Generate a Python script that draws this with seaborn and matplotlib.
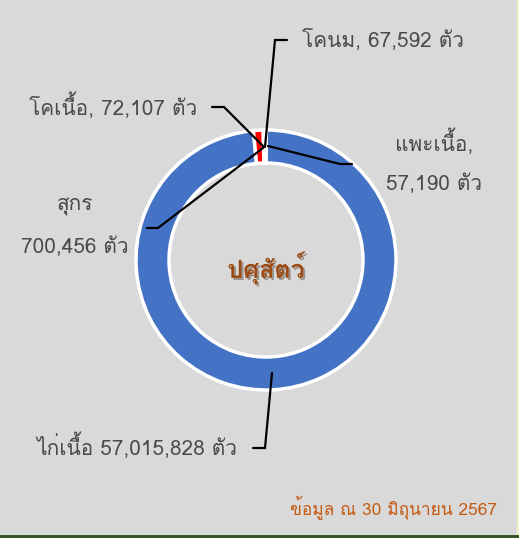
"""
Donut chart of livestock counts (data as of 30 June 2567).
"""

import matplotlib
matplotlib.use("Agg")
import matplotlib.patheffects as pe
import seaborn as sns
from matplotlib import pyplot as plt
from matplotlib.patches import Rectangle

# ---- data ---------------------------------------------------------------
animals = ["ไก่เนื้อ", "สุกร", "โคเนื้อ", "โคนม", "แพะเนื้อ"]
counts = [57015828, 700456, 72107, 67592, 57190]
slice_colors = ["#4472C4", "#FF0000", "#FFFFFF", "#FFFFFF", "#FFFFFF"]
center_label = "ปศุสัตว์"
footnote = "ข้อมูล ณ 30 มิถุนายน 2567"

W, H = 519, 538
BG = "#D9D9D9"
TEXT = "#4A4A4A"


def px(x, y):
    """Pixel position (top-left origin) -> data coords."""
    return x, H - y


sns.set_theme(style="white")
plt.rcParams["font.family"] = ["Loma", "Noto Sans Thai Looped", "DejaVu Sans"]

fig = plt.figure(figsize=(W / 100, H / 100), dpi=100, facecolor=BG)
ax = fig.add_axes([0, 0, 1, 1])

ax.pie(
    counts,
    colors=slice_colors,
    startangle=90,
    counterclock=False,
    center=px(266, 260),
    radius=130,
    wedgeprops=dict(width=33, edgecolor="white", linewidth=2.5),
    frame=True,
)
ax.set_xlim(0, W)
ax.set_ylim(0, H)
ax.set_aspect("equal")
ax.axis("off")

# leader lines
leaders = [
    [(253, 448), (265, 448), (272, 373)],   # chicken
    [(147, 228), (158, 228), (263, 148)],   # pig
    [(212, 107), (224, 107), (264, 147)],   # beef
    [(287, 40), (275, 40), (265, 147)],     # dairy
    [(352, 164), (340, 164), (268, 146)],   # goat
]
for pts in leaders:
    xs, ys = zip(*[px(x, y) for x, y in pts])
    ax.plot(xs, ys, color="black", lw=1.6, solid_joinstyle="miter")

fs = 15
style = dict(ha="center", va="center", fontsize=fs, color=TEXT)
ax.text(*px(137, 446), f"{animals[0]} {counts[0]:,} ตัว", **style)
ax.text(*px(75, 207), animals[1], **style)
ax.text(*px(75, 247), f"{counts[1]:,} ตัว", **style)
ax.text(*px(113, 106), f"{animals[2]}, {counts[2]:,} ตัว", **style)
ax.text(*px(383, 39), f"{animals[3]}, {counts[3]:,} ตัว", **style)
ax.text(*px(434, 142), f"{animals[4]},", **style)
ax.text(*px(434, 184), f"{counts[4]:,} ตัว", **style)

ax.text(*px(266, 268), center_label, ha="center", va="center", fontsize=18,
        fontweight="bold", color="#9C4A12",
        path_effects=[pe.withSimplePatchShadow(offset=(1.5, -1.5), alpha=0.35)])
ax.text(*px(394, 507), footnote, ha="center", va="center", fontsize=12.5,
        color="#C55A11")

# frame edges seen in the reference
fig.patches.append(Rectangle((0, 0), 1, 3 / H, transform=fig.transFigure,
                             facecolor="#375623", edgecolor="none"))
fig.patches.append(Rectangle((1 - 2 / W, 3 / H), 2 / W, 1, transform=fig.transFigure,
                             facecolor="#F2F2C8", edgecolor="none"))

fig.savefig("out.png", dpi=100, facecolor=BG)
